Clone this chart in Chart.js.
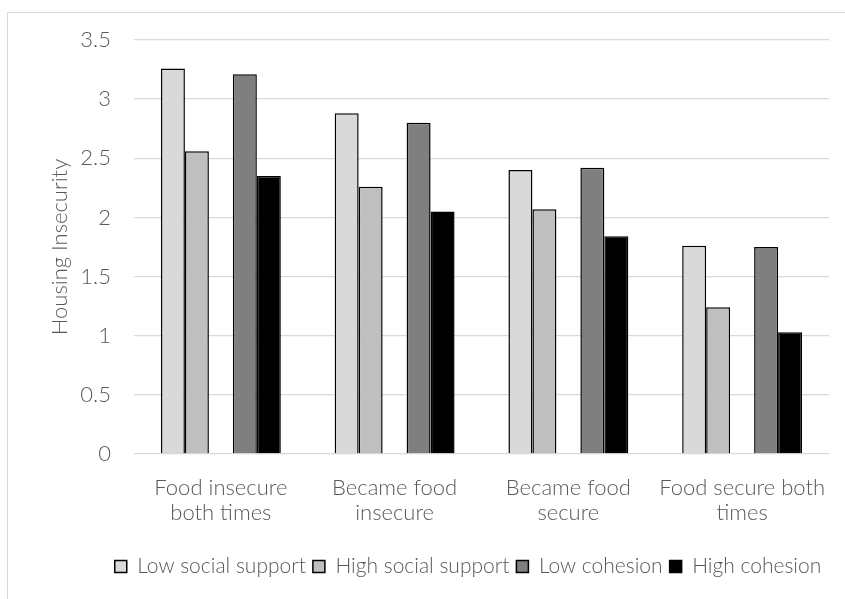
<!DOCTYPE html>
<html>
<head>
<meta charset="utf-8">
<script src="https://cdn.jsdelivr.net/npm/chart.js@4.4.1/dist/chart.umd.min.js"></script>
<style>
	html, body { margin: 0; padding: 0; background: #fff; overflow: hidden; }
	#frame { position: absolute; left: 7px; top: 12px; width: 900px; height: 700px; border: 1.5px solid #d9d9d9; }
	#wrap { position: absolute; left: 0; top: 0; width: 845px; height: 599px; }
</style>
</head>
<body>
<div id="frame"></div>
<div id="wrap"><canvas id="chart"></canvas></div>
<script>
// 資料
const categories = [
	["Food insecure", "both times"],
	["Became food", "insecure"],
	["Became food", "secure"],
	["Food secure both", "times"]
];
const lowSocialSupport = [3.26, 2.88, 2.40, 1.76];
const highSocialSupport = [2.56, 2.26, 2.07, 1.24];
const lowCohesion = [3.21, 2.80, 2.42, 1.75];
const highCohesion = [2.35, 2.05, 1.84, 1.03];
const spacer = [null, null, null, null];
const yTicks = [0, 0.5, 1, 1.5, 2, 2.5, 3, 3.5];

const FONT = "Lato";
const TEXT = "#595959";

// 圖例往右移
const legendShift = {
	id: "legendShift",
	afterLayout(chart) {
		chart.legend.left += 30;
		chart.legend.right += 30;
	}
};

var ctx = document.getElementById("chart").getContext("2d");
var config = {
	type: "bar",
	data: {
		labels: categories,
		datasets: [
			{ label: "Low social support", data: lowSocialSupport, backgroundColor: "#d9d9d9", borderColor: "#000", borderWidth: 1.5 },
			{ label: "High social support", data: highSocialSupport, backgroundColor: "#bfbfbf", borderColor: "#000", borderWidth: 1.5 },
			{ label: "", data: spacer, backgroundColor: "rgba(0,0,0,0)", borderWidth: 0 },
			{ label: "Low cohesion", data: lowCohesion, backgroundColor: "#7f7f7f", borderColor: "#000", borderWidth: 1.5 },
			{ label: "High cohesion", data: highCohesion, backgroundColor: "#000", borderColor: "#000", borderWidth: 1.5 }
		]
	},
	options: {
		responsive: true,
		maintainAspectRatio: false,
		animation: false,
		categoryPercentage: 0.69,
		barPercentage: 1.0,
		layout: { padding: { left: 47, top: 40, right: 16, bottom: 12 } },
		plugins: {
			tooltip: { enabled: false },
			legend: {
				position: "bottom",
				labels: {
					filter: (item) => item.text !== "",
					boxWidth: 12,
					boxHeight: 12,
					padding: 7,
					color: TEXT,
					font: { family: FONT, size: 21, weight: 300 }
				}
			}
		},
		scales: {
			x: {
				grid: { display: false },
				border: { display: false },
				ticks: {
					color: TEXT,
					padding: 13,
					maxRotation: 0,
					autoSkip: false,
					font: { family: FONT, size: 22, weight: 300, lineHeight: 1.15 }
				},
				afterFit(scale) { scale.height = 95; }
			},
			y: {
				min: 0,
				max: 3.5,
				afterBuildTicks(scale) { scale.ticks = yTicks.map((v) => ({ value: v })); },
				grid: { color: "#d9d9d9", lineWidth: 1.3, drawTicks: false },
				border: { display: false },
				ticks: {
					color: TEXT,
					padding: 23,
					callback: (v) => String(v),
					font: { family: FONT, size: 22, weight: 300 }
				},
				title: {
					display: true,
					text: "Housing Insecurity",
					color: TEXT,
					padding: 0,
					font: { family: FONT, size: 22, weight: 300 }
				},
				afterFit(scale) { scale.width = 87; }
			}
		}
	},
	plugins: [legendShift]
};

var myChart = new Chart(ctx, config);
</script>
</body>
</html>
